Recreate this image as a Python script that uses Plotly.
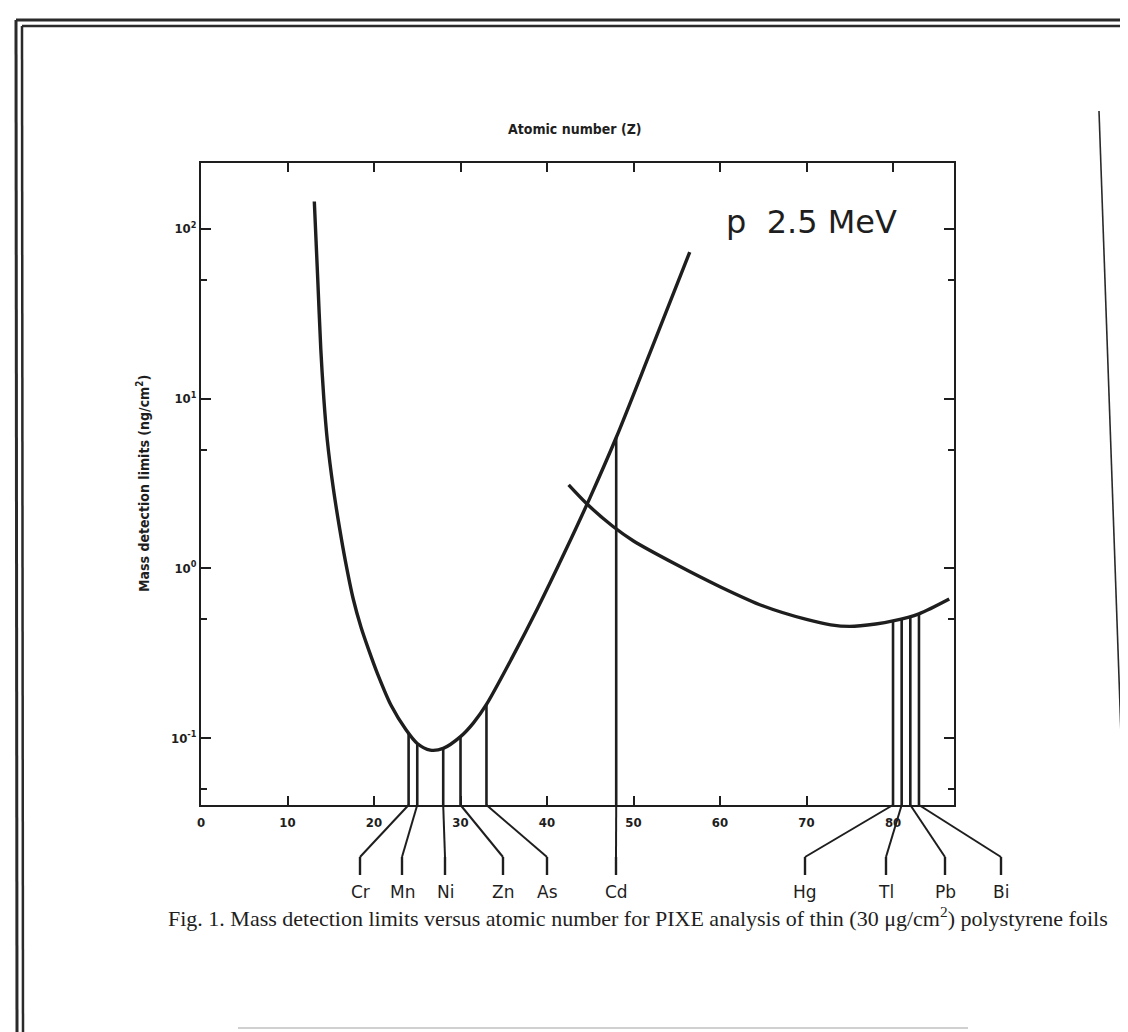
import plotly.graph_objects as go

# ---------------- data ----------------
# K-shell detection-limit curve (Z, ng/cm^2)
k_z = [13.1, 13.5, 13.85, 14.2, 14.6, 15.3, 16.0, 16.7, 17.6, 18.5, 19.4, 20.4, 22.0, 23.7,
       25.0, 26.5, 28.0, 30.0, 31.5, 33.0, 36.0, 38.9, 42.0, 45.0, 48.0, 51.9, 56.5]
k_limit = [145, 50, 19.5, 10, 5.7, 2.95, 1.75, 1.1, 0.66, 0.45, 0.33, 0.24, 0.155, 0.112,
           0.093, 0.085, 0.087, 0.102, 0.123, 0.158, 0.30, 0.58, 1.23, 2.63, 5.9, 18.6, 73]
# L-shell detection-limit curve
l_z = [42.5, 44.6, 47.6, 50, 55, 60, 65, 70, 72.8, 75, 78, 80, 83, 86.5]
l_limit = [3.1, 2.4, 1.77, 1.45, 1.05, 0.78, 0.60, 0.50, 0.465, 0.455, 0.47, 0.49, 0.54, 0.66]

# marked elements
elements = ["Cr", "Mn", "Ni", "Zn", "As", "Cd", "Hg", "Tl", "Pb", "Bi"]
element_z = [24, 25, 28, 30, 33, 48, 80, 81, 82, 83]
element_limit = [0.106, 0.093, 0.087, 0.102, 0.158, 5.9, 0.49, 0.50, 0.52, 0.54]

x_tickvals = [0, 10, 20, 30, 40, 50, 60, 70, 80]
x_ticktext = ["0", "10", "20", "30", "40", "50", "60", "70", "80"]
y_tickvals = [0.1, 1, 10, 100]
y_ticktext = ["10<sup>-1</sup>", "10<sup>0</sup>", "10<sup>1</sup>", "10<sup>2</sup>"]
y_minor = [0.05, 0.5, 5, 50]

# ---------------- layout geometry ----------------
W, H = 1128, 1032
PL, PR, PT, PB = 193, 946, 155, 797          # plot-area pixel box
XR = [0, 87.05]
YR = [-1.394, 2.388]
label_px = [352, 394, 437, 495, 539, 608, 797, 878, 937, 993]   # label x positions (px)

def px(xp):
    return (xp - PL) / (PR - PL)

def py(yp):
    return (PB - yp) / (PB - PT)

def z2paper(z):
    return (z - XR[0]) / (XR[1] - XR[0])

INK = "#1e1e1e"
COND = "DejaVu Sans Condensed, Liberation Sans Narrow, DejaVu Sans"
TICKFONT = dict(family=COND, size=13, color=INK, weight="bold")
TITLEFONT = dict(family=COND, size=14, color=INK, weight="bold")

fig = go.Figure()

fig.add_trace(go.Scatter(x=k_z, y=k_limit, mode="lines",
                         line=dict(color=INK, width=3.4, shape="spline", smoothing=0.8),
                         hoverinfo="skip", showlegend=False))
fig.add_trace(go.Scatter(x=l_z, y=l_limit, mode="lines",
                         line=dict(color=INK, width=3.4, shape="spline", smoothing=0.8),
                         hoverinfo="skip", showlegend=False))

ymin_val = 10 ** YR[0]
for z, v in zip(element_z, element_limit):
    fig.add_trace(go.Scatter(x=[z, z], y=[v, ymin_val], mode="lines",
                             line=dict(color=INK, width=2.6),
                             hoverinfo="skip", showlegend=False))

shapes = []
annotations = []
# leader lines below the axis + labels
for name, z, lx in zip(elements, element_z, label_px):
    x0 = z2paper(z)
    x1 = px(lx)
    shapes.append(dict(type="line", xref="paper", yref="paper",
                       x0=x0, y0=0, x1=x1, y1=py(849),
                       line=dict(color=INK, width=2)))
    shapes.append(dict(type="line", xref="paper", yref="paper",
                       x0=x1, y0=py(849), x1=x1, y1=py(867),
                       line=dict(color=INK, width=2.4)))
    annotations.append(dict(text=name, xref="paper", yref="paper", x=x1, y=py(884),
                            xanchor="center", yanchor="middle", showarrow=False,
                            font=dict(family="DejaVu Sans, Liberation Sans", size=17, color=INK)))

# outer scanned-page frame
frame = [((8, 12), (9, 1032), 3), ((14, 18), (15, 1032), 2.5),
         ((8, 12), (1120, 12), 3), ((14, 18), (1115, 18), 2.5),
         ((1120, 12), (1125, 1032), 2.5), ((1115, 18), (1120, 1032), 2),
         ((1091, 103), (1120, 925), 1.6)]
for (a, b, w) in frame:
    shapes.append(dict(type="line", xref="paper", yref="paper",
                       x0=px(a[0]), y0=py(a[1]), x1=px(b[0]), y1=py(b[1]),
                       line=dict(color="#2a2a2a", width=w)))
shapes.append(dict(type="line", xref="paper", yref="paper",
                   x0=px(230), y0=py(1020), x1=px(960), y1=py(1020),
                   line=dict(color="#d0d0d0", width=2)))

annotations += [
    dict(text="Atomic number (Z)", xref="paper", yref="paper", x=px(567), y=py(121),
         xanchor="center", yanchor="middle", showarrow=False, font=TITLEFONT),
    dict(text="Mass detection limits (ng/cm<sup>2</sup>)", xref="paper", yref="paper",
         x=px(135), y=0.5, xanchor="center", yanchor="middle", textangle=-90,
         showarrow=False, font=TITLEFONT),
    dict(text="p\u00a0 2.5 MeV", xref="paper", yref="paper", x=px(803), y=py(214),
         xanchor="center", yanchor="middle", showarrow=False,
         font=dict(family="DejaVu Sans, Lato", size=32, color=INK)),
    dict(text="Fig. 1. Mass detection limits versus atomic number for PIXE analysis of thin "
              "(30 μg/cm<sup>2</sup>) polystyrene foils",
         xref="paper", yref="paper", x=px(158), y=py(909), xanchor="left", yanchor="middle",
         showarrow=False, font=dict(family="Liberation Serif, Times New Roman", size=22, color=INK)),
]

axis_common = dict(showline=True, linecolor=INK, linewidth=2, mirror="ticks",
                   ticks="inside", tickcolor=INK, tickwidth=2, showgrid=False,
                   zeroline=False, tickfont=TICKFONT)

fig.update_layout(
    width=W, height=H,
    margin=dict(l=PL, r=W - PR, t=PT, b=H - PB, autoexpand=False),
    paper_bgcolor="white", plot_bgcolor="white",
    showlegend=False,
    xaxis=dict(range=XR, tickvals=x_tickvals, ticktext=x_ticktext, ticklen=9,
               ticklabelstandoff=4, **axis_common),
    yaxis=dict(type="log", range=YR, tickvals=y_tickvals, ticktext=y_ticktext, ticklen=10,
               minor=dict(tickvals=y_minor, ticklen=6, ticks="inside", tickcolor=INK, tickwidth=2),
               **axis_common),
    shapes=shapes,
    annotations=annotations,
)

fig.write_html("out.html")
